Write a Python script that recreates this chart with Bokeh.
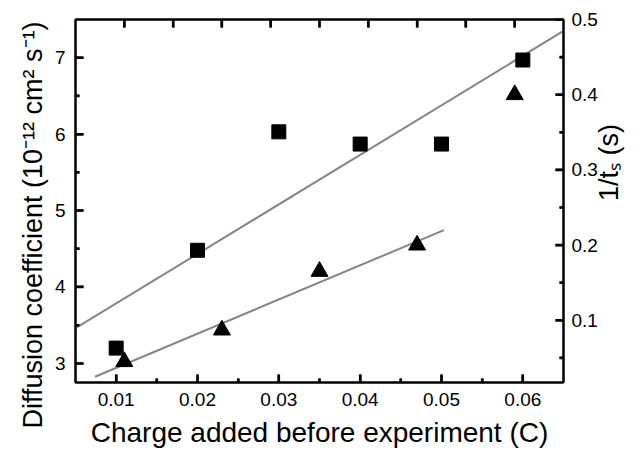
import math
from bokeh.plotting import figure
from bokeh.models import LinearAxis, Range1d, FixedTicker, Title
from bokeh.embed import file_html
from bokeh.resources import INLINE

# data
charge_sq = [0.010, 0.020, 0.030, 0.040, 0.050, 0.060]
diff_coef = [3.20, 4.48, 6.03, 5.87, 5.87, 6.97]
charge_tri = [0.011, 0.023, 0.035, 0.047, 0.059]
inv_ts = [0.045, 0.087, 0.165, 0.200, 0.400]
fit_d_x = [0.005, 0.065]
fit_d_y = [3.46, 7.35]
fit_t_x = [0.0074, 0.0503]
fit_t_y = [0.025, 0.220]

x_ticks = [0.01, 0.02, 0.03, 0.04, 0.05, 0.06]
x_minor = [0.015, 0.025, 0.035, 0.045, 0.055]
yl_ticks = [3, 4, 5, 6, 7]
yl_minor = [3.5, 4.5, 5.5, 6.5]
yr_ticks = [0.1, 0.2, 0.3, 0.4, 0.5]
yr_minor = [0.05, 0.15, 0.25, 0.35, 0.45]
top_ticks = [1, 2, 3, 4, 5, 6, 7, 8, 9]

x_title = "Charge added before experiment (C)"
yl_title = "Diffusion coefficient (10\u207b\u00b9\u00b2 cm\u00b2 s\u207b\u00b9)"
yr_title = "1/t\u209b (s)"

X_MIN, X_MAX = 0.005, 0.065
YL_MIN, YL_MAX = 2.75, 7.5
YR_MIN, YR_MAX = 0.0173, 0.5
T_MIN, T_MAX = 0, 10
FRAME_W, FRAME_H = 488, 363
MAJ_LEN, MIN_LEN = 8, 4   # tick lengths in px

FONT = "Liberation Sans"

p = figure(width=641, height=455, output_backend="svg", toolbar_location=None,
           x_range=Range1d(X_MIN, X_MAX), y_range=Range1d(YL_MIN, YL_MAX),
           min_border_left=75, min_border_right=78, min_border_top=19, min_border_bottom=73)
p.extra_y_ranges = {"right": Range1d(YR_MIN, YR_MAX)}
p.extra_x_ranges = {"top": Range1d(T_MIN, T_MAX)}
p.grid.visible = False
p.outline_line_color = "black"
p.outline_line_width = 2
p.background_fill_color = "white"
p.border_fill_color = "white"

# inward ticks, drawn first as segments in the primary data space
px_x = (X_MAX - X_MIN) / FRAME_W
px_yl = (YL_MAX - YL_MIN) / FRAME_H

def r2l(v):   # right-axis value -> left-axis position
    return YL_MIN + (v - YR_MIN) * (YL_MAX - YL_MIN) / (YR_MAX - YR_MIN)

def t2x(v):   # top-axis value -> bottom-axis position
    return X_MIN + (v - T_MIN) * (X_MAX - X_MIN) / (T_MAX - T_MIN)

tx0, tx1, ty0, ty1 = [], [], [], []
for xs, ln in ((x_ticks, MAJ_LEN), (x_minor, MIN_LEN)):
    for x in xs:
        tx0.append(x); tx1.append(x); ty0.append(YL_MIN); ty1.append(YL_MIN + ln * px_yl)
for t in top_ticks:
    x = t2x(t)
    tx0.append(x); tx1.append(x); ty0.append(YL_MAX); ty1.append(YL_MAX - MAJ_LEN * px_yl)
for ys, ln in ((yl_ticks, MAJ_LEN), (yl_minor, MIN_LEN)):
    for y in ys:
        tx0.append(X_MIN); tx1.append(X_MIN + ln * px_x); ty0.append(y); ty1.append(y)
for ys, ln in ((yr_ticks, MAJ_LEN), (yr_minor, MIN_LEN)):
    for v in ys:
        y = r2l(v)
        tx0.append(X_MAX); tx1.append(X_MAX - ln * px_x); ty0.append(y); ty1.append(y)
p.segment(x0=tx0, y0=ty0, x1=tx1, y1=ty1, line_color="#000000", line_width=2.5)

def style(ax, label_size="19px"):
    ax.axis_line_width = 2
    ax.axis_line_color = "black"
    ax.major_tick_line_width = 2
    ax.minor_tick_line_width = 2
    ax.major_tick_line_color = "black"
    ax.minor_tick_line_color = "black"
    ax.major_tick_in = MAJ_LEN
    ax.major_tick_out = 0
    ax.minor_tick_in = MIN_LEN
    ax.minor_tick_out = 0
    ax.major_label_text_font = FONT
    ax.major_label_text_font_size = label_size
    ax.major_label_text_color = "black"
    ax.axis_label_text_font = FONT
    ax.axis_label_text_font_size = "28px"
    ax.axis_label_text_font_style = "normal"
    ax.axis_label_text_color = "black"

xa = p.xaxis[0]
xa.ticker = FixedTicker(ticks=x_ticks, minor_ticks=x_minor)
xa.axis_label = x_title
xa.major_label_standoff = 10
xa.axis_label_standoff = 8
style(xa)

ya = p.yaxis[0]
ya.ticker = FixedTicker(ticks=yl_ticks, minor_ticks=yl_minor)
ya.major_label_standoff = 10
style(ya)

yr = LinearAxis(y_range_name="right", ticker=FixedTicker(ticks=yr_ticks, minor_ticks=yr_minor),
                axis_label=yr_title)
yr.major_label_standoff = 8
yr.axis_label_standoff = 8
style(yr)
yr.axis_label_text_font_size = "27px"
if "axis_label_orientation" in LinearAxis.properties():
    yr.axis_label_orientation = math.pi / 2
p.add_layout(yr, "right")

xt = LinearAxis(x_range_name="top", ticker=FixedTicker(ticks=top_ticks, minor_ticks=[]),
                major_label_overrides={t: "" for t in top_ticks})
style(xt)
xt.major_label_standoff = 0
p.add_layout(xt, "above")

# left title as a side Title, aligned to the top end of the frame
p.add_layout(Title(text=yl_title, align="right", offset=2, standoff=8,
                   text_font=FONT, text_font_size="27px", text_font_style="normal",
                   text_color="black"), "left")

p.line(fit_d_x, fit_d_y, line_color="#858585", line_width=2)
p.line(fit_t_x, fit_t_y, line_color="#858585", line_width=2, y_range_name="right")
p.scatter(charge_sq, diff_coef, marker="square", size=14, fill_color="black", line_color="black")
p.scatter(charge_tri, inv_ts, marker="triangle", size=17, fill_color="black", line_color="black",
          y_range_name="right")

open("out.html", "w").write(file_html(p, INLINE))
